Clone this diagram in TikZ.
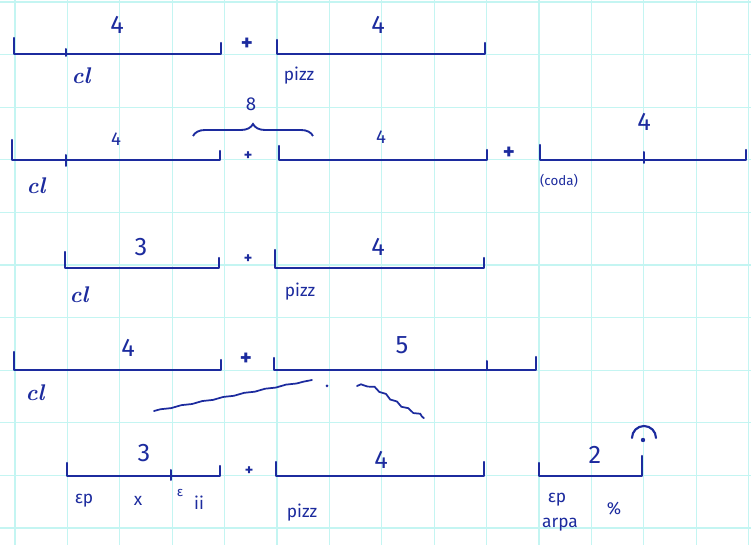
\documentclass[tikz,border=0pt]{standalone}
\usepackage{fontspec}
\setsansfont{Fira Sans}
\usetikzlibrary{decorations.pathmorphing,decorations.pathreplacing}
\definecolor{ink}{HTML}{1C2B9E}
\definecolor{gridc}{HTML}{C4F5F2}
\begin{document}
\begin{tikzpicture}[x=0.75pt,y=-0.75pt,
  gridline/.style={draw=gridc,line width=1pt},
  bar/.style={draw=ink,line width=1.7pt,line cap=round,line join=round},
  tick/.style={draw=ink,line width=1.5pt,line cap=round},
  num/.style={text=ink,font=\sffamily\fontsize{19}{19}\selectfont,inner sep=0pt},
  smallnum/.style={text=ink,font=\sffamily\fontsize{14}{14}\selectfont,inner sep=0pt},
  lbl/.style={text=ink,font=\sffamily\fontsize{13}{13}\selectfont,inner sep=0pt},
  cursive/.style={text=ink,font=\itshape\bfseries\fontsize{17}{17}\selectfont,inner sep=0pt},
  plus/.style={text=ink,font=\sffamily\bfseries\fontsize{17}{17}\selectfont,inner sep=0pt},
  smallplus/.style={text=ink,font=\sffamily\bfseries\fontsize{12}{12}\selectfont,inner sep=0pt},
  scribble/.style={draw=ink,line width=1.3pt,line cap=round}]
\useasboundingbox (0,0) rectangle (751,545);
\fill[white] (0,0) rectangle (751,545);
% graph paper
\foreach \i in {0,...,14} \draw[gridline] ({15+52.4*\i},0) -- ({15+52.4*\i},545);
\foreach \j in {0,...,10} \draw[gridline] (0,{2+52.6*\j}) -- (751,{2+52.6*\j});

% ---------- row 1 ----------
\draw[bar] (14,38) -- (14,54) -- (221,54) -- (221,43);
\draw[tick] (66,49) -- (66,56);
\node[num] (r1a) at (117,25) {4};
\node[cursive] (r1cl) at (81,76) {cl};
\node[plus] (r1p) at (247,44) {+};
\draw[bar] (277,40) -- (277,54) -- (485,54) -- (485,43);
\node[num] (r1b) at (378,25) {4};
\node[lbl] (r1pz) at (299,76) {pizz};

% ---------- row 2 ----------
\draw[bar] (12,140) -- (12,160) -- (220,160) -- (220,151);
\draw[tick] (66,155) -- (66,166);
\node[smallnum] (r2a) at (116,139) {4};
\node[cursive] (r2cl) at (36,186) {cl};
\draw[draw=ink,line width=1.4pt,decorate,decoration={brace,amplitude=9pt}] (193,136) -- (313,136);
\node[smallnum] (r2e) at (251,104) {8};
\node[smallplus] (r2p) at (248,156) {+};
\draw[bar] (279,146) -- (279,160) -- (487,160) -- (487,150);
\node[smallnum] (r2b) at (381,137) {4};
\node[plus] (r2q) at (509,153) {+};
\draw[bar] (540,145) -- (540,160) -- (746,160) -- (746,150);
\draw[tick] (644,152) -- (644,163);
\node[num] (r2c) at (644,122) {4};
\node[text=ink,font=\sffamily\fontsize{10}{10}\selectfont,inner sep=0pt] (r2coda) at (559,181) {(coda)};

% ---------- row 3 ----------
\draw[bar] (65,252) -- (65,268) -- (219,268) -- (219,258);
\node[num] (r3a) at (141,247) {3};
\node[cursive] (r3cl) at (79,295) {cl};
\node[smallplus] (r3p) at (248,259) {+};
\draw[bar] (275,250) -- (275,268) -- (484,268) -- (484,258);
\node[num] (r3b) at (378,247) {4};
\node[lbl] (r3pz) at (300,292) {pizz};

% ---------- row 4 ----------
\draw[bar] (14,352) -- (14,370) -- (221,370) -- (221,360);
\node[num] (r4a) at (128,348) {4};
\node[cursive] (r4cl) at (35,393) {cl};
\node[plus] (r4p) at (246,359) {+};
\draw[bar] (274,358) -- (274,370) -- (536,370) -- (536,357);
\draw[tick] (487,361) -- (487,370);
\node[num] (r4b) at (402,345) {5};
\draw[scribble,decorate,decoration={snake,amplitude=0.35pt,segment length=16pt}] (154,411) -- (312,380);
\fill[ink] (327,386) circle (1.5);
\draw[scribble,decorate,decoration={snake,amplitude=0.8pt,segment length=10pt}] (357,386) .. controls (376,383) and (384,404) .. (424,418);

% ---------- row 5 ----------
\draw[bar] (67,463) -- (67,476) -- (220,476) -- (220,466);
\draw[tick] (171,470) -- (171,480);
\node[num] (r5a) at (144,453) {3};
\node[lbl] (r5ep) at (84,501) {εp};
\node[lbl] (r5x) at (138,501) {x};
\node[lbl] (r5eps) at (180,493) {\fontsize{10}{10}\selectfont ε};
\node[lbl] (r5ii) at (199,503) {ii};
\node[smallplus] (r5p) at (249,471) {+};
\draw[bar] (276,462) -- (276,476) -- (484,476) -- (484,462);
\node[num] (r5b) at (381,460) {4};
\node[lbl] (r5pz) at (302,513) {pizz};
\draw[bar] (539,463) -- (539,476) -- (642,476) -- (642,456);
\node[num] (r5c) at (595,455) {2};
\draw[draw=ink,line width=1.6pt,line cap=round] (632,438) arc[start angle=180,end angle=360,radius=12];
\fill[ink] (643,440) circle (2.2);
\node[lbl] (r5ep2) at (557,500) {εp};
\node[lbl] (r5arpa) at (560,525) {arpa};
\node[lbl] (r5pc) at (614,509) {\%};
\end{tikzpicture}
\end{document}
